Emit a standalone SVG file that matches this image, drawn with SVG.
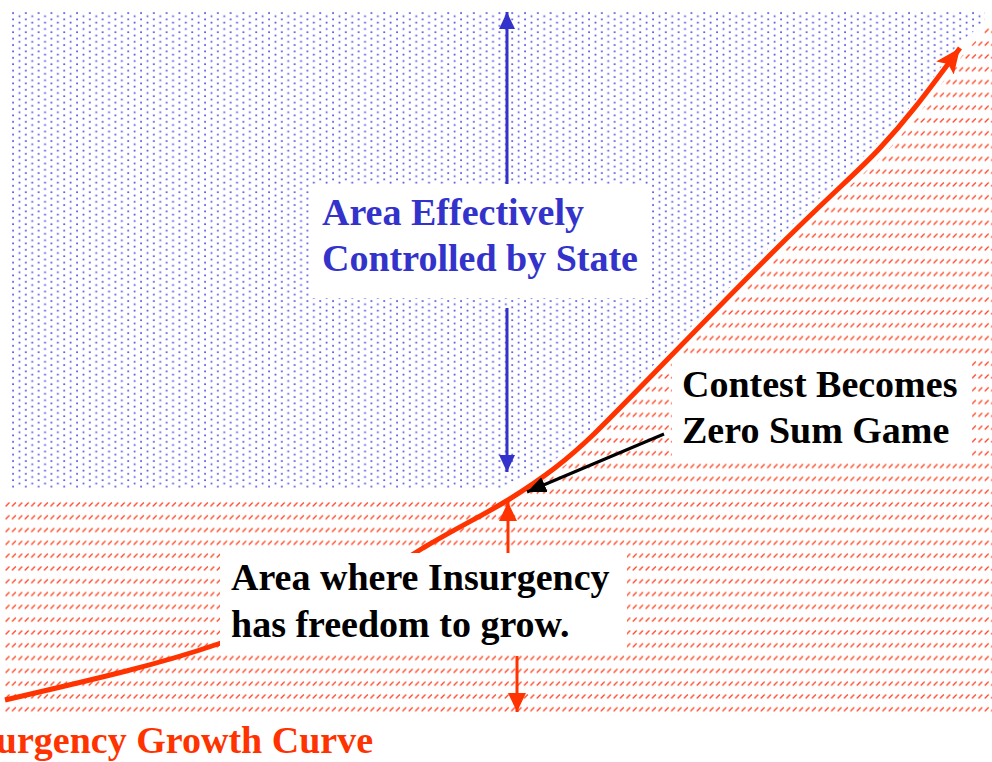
<svg xmlns="http://www.w3.org/2000/svg" width="992" height="762" viewBox="0 0 992 762">
<defs>
<pattern id="dots" width="12.8" height="6.4" patternUnits="userSpaceOnUse" x="12" y="12">
<rect x="0.2" y="0.2" width="1.7" height="1.7" fill="#5050e0"/>
<rect x="6.6" y="3.4" width="1.7" height="1.7" fill="#5050e0"/>
</pattern>
<pattern id="hatch" width="6.4" height="12.8" patternUnits="userSpaceOnUse" x="5" y="502">
<line x1="0.6" y1="4.4" x2="4.4" y2="0.6" stroke="#ff4a2a" stroke-width="1.4"/>
</pattern>
<marker id="hBlue" markerWidth="18" markerHeight="18" refX="17" refY="9" orient="auto" markerUnits="userSpaceOnUse">
<path d="M0,1 L17,9 L0,17 Z" fill="#3333cc"/>
</marker>
<marker id="hRed" markerWidth="20" markerHeight="20" refX="19" refY="10" orient="auto" markerUnits="userSpaceOnUse">
<path d="M0,1 L19,10 L0,19 Z" fill="#ff3300"/>
</marker>
<marker id="hCurve" markerWidth="26" markerHeight="24" refX="25" refY="12" orient="auto" markerUnits="userSpaceOnUse">
<path d="M0,1 L25,12 L0,23 L5,12 Z" fill="#ff3300"/>
</marker>
<marker id="hBlack" markerWidth="20" markerHeight="18" refX="19" refY="9" orient="auto" markerUnits="userSpaceOnUse">
<path d="M0,1 L19,9 L0,17 Z" fill="#000"/>
</marker>
<style>
.t{font-family:"Liberation Serif","Times New Roman",serif;font-weight:bold;font-size:38px}
</style>
</defs>
<g id="regions">
<path id="state-area" d="M12,11 L985,11 L985,22 L958,44 C935,76 910,110 880,140 C860,162 830,187 773,244 C700,317 628,392 594,426 C568,452 540,474 505,488 L12,488 Z" fill="url(#dots)"/>
<path id="insurgency-area" d="M5,502 L512,502 C545,481 570,463 597,438 C632,404 703,329 777,256 C834,199 864,174 886,152 C916,120 940,86 962,56 L992,22 L992,714 L5,714 Z" fill="url(#hatch)"/>
</g>
<g id="curve">
<path d="M5,700 C100,678 160,664 218,644 C300,616 370,582 423,548 C460,526 482,516 508,500 C545,477 568,459 594,434 C628,401 700,325 773,252 C830,195 860,170 880,148 C910,116 930,88 960,48" fill="none" stroke="#ff3300" stroke-width="5" marker-end="url(#hCurve)"/>
</g>
<g id="connectors">
<line x1="507" y1="184" x2="507" y2="12" stroke="#3333cc" stroke-width="3" marker-end="url(#hBlue)"/>
<line x1="507" y1="308" x2="507" y2="472" stroke="#3333cc" stroke-width="3" marker-end="url(#hBlue)"/>
<line x1="508" y1="553" x2="508" y2="502" stroke="#ff3300" stroke-width="3" marker-end="url(#hRed)"/>
<line x1="517" y1="656" x2="517" y2="712" stroke="#ff3300" stroke-width="3" marker-end="url(#hRed)"/>
<line x1="664" y1="434" x2="527" y2="492" stroke="#000" stroke-width="3" marker-end="url(#hBlack)"/>
</g>
<g id="state-label">
<rect x="310" y="184" width="342" height="114" fill="#fff"/>
<text class="t" x="322" y="225" fill="#3333cc">Area Effectively</text>
<text class="t" x="322" y="271" fill="#3333cc">Controlled by State</text>
</g>
<g id="contest-label">
<rect x="672" y="358" width="300" height="102" fill="#fff"/>
<text class="t" x="682" y="397" fill="#000">Contest Becomes</text>
<text class="t" x="682" y="443" fill="#000">Zero Sum Game</text>
</g>
<g id="insurgency-label">
<rect x="220" y="553" width="407" height="102" fill="#fff"/>
<text class="t" x="231" y="590" fill="#000">Area where Insurgency</text>
<text class="t" x="231" y="637" fill="#000">has freedom to grow.</text>
</g>
<g id="curve-label">
<text class="t" x="373" y="753" text-anchor="end" fill="#ff3300">Insurgency Growth Curve</text>
</g>
</svg>
